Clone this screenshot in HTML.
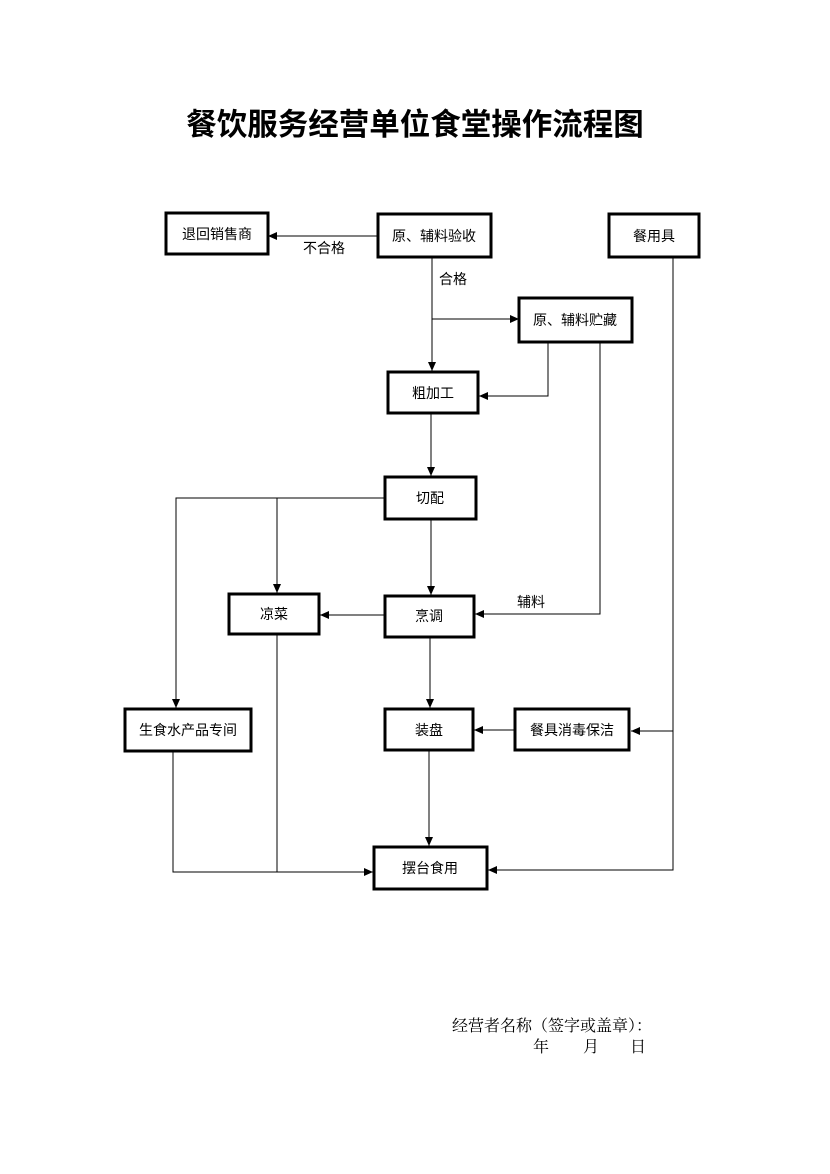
<!DOCTYPE html>
<html><head><meta charset="utf-8"><style>
html,body{margin:0;padding:0;background:#fff;}
svg{display:block;}
.b{fill:#fff;stroke:#000;stroke-width:3;}
.l{stroke:#000;stroke-width:1;fill:none;}
.t{font-family:"Liberation Sans","Noto Sans CJK SC",sans-serif;font-size:14px;fill:#000;text-anchor:middle;dominant-baseline:central;}
.s{font-family:"Liberation Serif","Noto Serif CJK SC",serif;font-size:16px;fill:#000;}
</style></head><body>
<svg width="830" height="1174" viewBox="0 0 830 1174" xmlns="http://www.w3.org/2000/svg">
<defs><marker id="a" markerWidth="10" markerHeight="10" refX="9" refY="5" orient="auto" markerUnits="userSpaceOnUse"><path d="M0,1 L9,5 L0,9 z" fill="#000"/></marker></defs>
<text x="415" y="122" text-anchor="middle" dominant-baseline="central" style="font-family:'Noto Sans CJK SC',sans-serif;font-size:30.5px;font-weight:bold;">餐饮服务经营单位食堂操作流程图</text>

<path class="l" d="M378,236 H268" marker-end="url(#a)"/>
<path class="l" d="M432,258 V371" marker-end="url(#a)"/>
<path class="l" d="M432,319 H519" marker-end="url(#a)"/>
<path class="l" d="M548,343 V396 H479" marker-end="url(#a)"/>
<path class="l" d="M600,343 V614 H475" marker-end="url(#a)"/>
<path class="l" d="M673,257 V870 H488" marker-end="url(#a)"/>
<path class="l" d="M673,731 H631" marker-end="url(#a)"/>
<path class="l" d="M431,414 V476" marker-end="url(#a)"/>
<path class="l" d="M431,520 V595" marker-end="url(#a)"/>
<path class="l" d="M385,498 H176 V708" marker-end="url(#a)"/>
<path class="l" d="M277,498 V593" marker-end="url(#a)"/>
<path class="l" d="M385,615 H320" marker-end="url(#a)"/>
<path class="l" d="M430,638 V708" marker-end="url(#a)"/>
<path class="l" d="M515,730 H474" marker-end="url(#a)"/>
<path class="l" d="M429,751 V846" marker-end="url(#a)"/>
<path class="l" d="M277,635 V872"/>
<path class="l" d="M173,752 V872 H373" marker-end="url(#a)"/>

<rect class="b" x="166" y="213" width="102" height="41"/><text class="t" x="217" y="234">退回销售商</text>
<rect class="b" x="378" y="214" width="113" height="43"/><text class="t" x="434" y="236">原、辅料验收</text>
<rect class="b" x="609" y="214" width="90" height="43"/><text class="t" x="654" y="236">餐用具</text>
<rect class="b" x="519" y="298" width="113" height="44"/><text class="t" x="575" y="320">原、辅料贮藏</text>
<rect class="b" x="388" y="372" width="90" height="41"/><text class="t" x="433" y="393">粗加工</text>
<rect class="b" x="385" y="477" width="91" height="42"/><text class="t" x="430" y="498">切配</text>
<rect class="b" x="229" y="594" width="90" height="40"/><text class="t" x="274" y="614">凉菜</text>
<rect class="b" x="385" y="596" width="89" height="41"/><text class="t" x="429" y="616">烹调</text>
<rect class="b" x="125" y="709" width="126" height="42"/><text class="t" x="188" y="730">生食水产品专间</text>
<rect class="b" x="385" y="709" width="88" height="41"/><text class="t" x="429" y="730">装盘</text>
<rect class="b" x="515" y="709" width="114" height="41"/><text class="t" x="572" y="730">餐具消毒保洁</text>
<rect class="b" x="374" y="847" width="113" height="42"/><text class="t" x="430" y="868">摆台食用</text>

<text class="t" x="324" y="248">不合格</text>
<text class="t" x="453" y="279">合格</text>
<text class="t" x="531" y="602">辅料</text>

<text class="s" x="452" y="1031">经营者名称（签字或盖章）：</text>
<text class="s" x="533" y="1052">年</text>
<text class="s" x="583" y="1052">月</text>
<text class="s" x="630" y="1052">日</text>
</svg>
</body></html>
